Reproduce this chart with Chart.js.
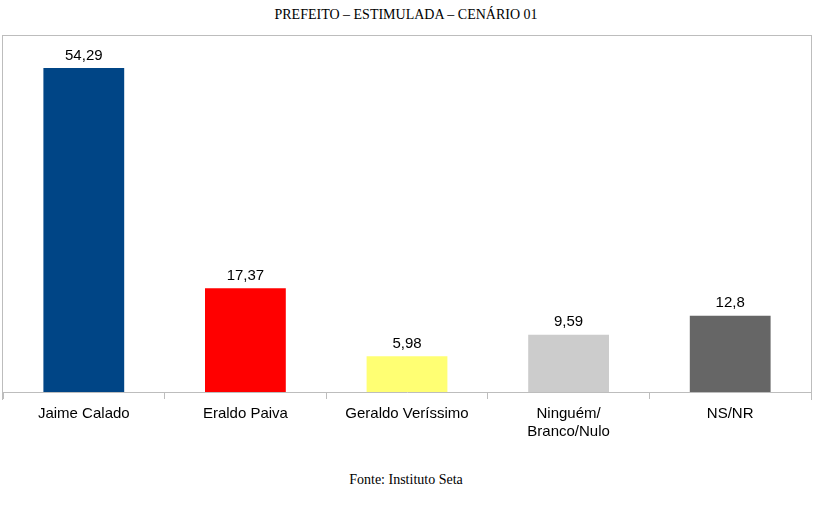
<!DOCTYPE html>
<html><head><meta charset="utf-8">
<script src="https://cdn.jsdelivr.net/npm/chart.js@4.4.1/dist/chart.umd.min.js"></script>
<style>
body{margin:0;background:#fff;width:836px;height:506px;position:relative;overflow:hidden}
#box{position:absolute;left:2px;top:35px;width:808px;height:364px;border:1px solid #bdbdbd;border-bottom:none}
.t{position:absolute;width:100%;text-align:center;font-family:"Liberation Serif",serif;color:#000}
#wrap{position:absolute;left:0;top:0;width:836px;height:506px}
</style></head><body>
<div id="box"></div>
<div class="t" style="top:7px;font-size:14px;left:-12px">PREFEITO – ESTIMULADA – CENÁRIO 01</div>
<div class="t" style="top:472px;font-size:14px;left:-12px">Fonte: Instituto Seta</div>
<div id="wrap"><canvas id="c" width="836" height="506"></canvas></div>
<script>
// --- data ---
const categories = ['Jaime Calado', 'Eraldo Paiva', 'Geraldo Veríssimo', ['Ninguém/', 'Branco/Nulo'], 'NS/NR'];
const values = [54.29, 17.37, 5.98, 9.59, 12.8];
const labels = ['54,29', '17,37', '5,98', '9,59', '12,8'];
const colors = ['#004586', '#ff0000', '#ffff73', '#cccccc', '#666666'];

const valueLabels = {
  id: 'valueLabels',
  afterDatasetsDraw(chart) {
    const ctx = chart.ctx;
    ctx.save();
    ctx.font = '15px "Liberation Sans", Arial, sans-serif';
    ctx.fillStyle = '#000';
    ctx.textAlign = 'center';
    ctx.textBaseline = 'bottom';
    chart.getDatasetMeta(0).data.forEach((bar, i) => {
      ctx.fillText(labels[i], bar.x, bar.y - 5);
    });
    ctx.restore();
  }
};

new Chart(document.getElementById('c'), {
  type: 'bar',
  data: { labels: categories, datasets: [{ data: values, backgroundColor: colors, categoryPercentage: 1, barPercentage: 0.5 }] },
  options: {
    responsive: false, animation: false,
    layout: { padding: { left: 3, right: 25, top: 34, bottom: 0 } },
    plugins: { legend: { display: false }, tooltip: { enabled: false } },
    scales: {
      y: { display: false, min: 0, max: 60 },
      x: {
        afterFit: s => { s.height = 114; },
        border: { color: '#bdbdbd' },
        grid: { offset: true, drawOnChartArea: false, tickLength: 7, color: '#bdbdbd' },
        ticks: { color: '#000', padding: 6, maxRotation: 0, font: { family: '"Liberation Sans", Arial, sans-serif', size: 15 } }
      }
    }
  },
  plugins: [valueLabels]
});
</script>
</body></html>
